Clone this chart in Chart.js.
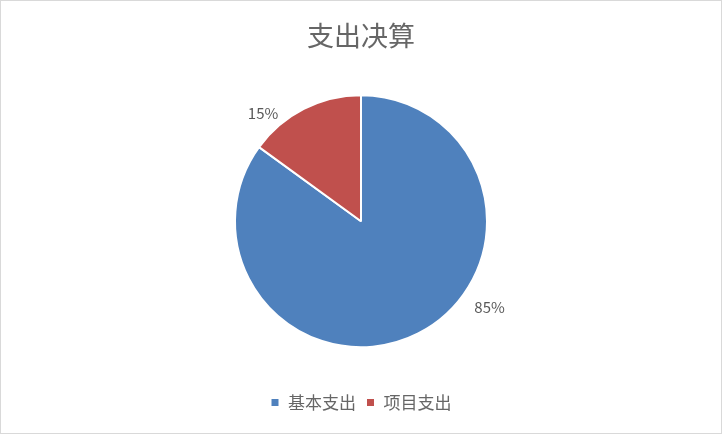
<!DOCTYPE html>
<html>
<head>
<meta charset="utf-8">
<script src="https://cdn.jsdelivr.net/npm/chart.js@4.4.0/dist/chart.umd.min.js"></script>
<style>
  html, body { margin: 0; padding: 0; background: #fff; }
  #wrap { width: 722px; height: 434px; box-sizing: border-box; border: 1px solid #d9d9d9; }
</style>
</head>
<body>
<div id="wrap"><canvas id="myChart" width="720" height="432"></canvas></div>
<script>
const categories = ['基本支出', '项目支出'];
const values = [85, 15];
const colors = ['#4F81BD', '#C0504D'];

// where along each slice the outside label sits, and how far past the edge
const labelFrac = [0.405, 0.22];
const labelGap = [29, 20];

const pieLabels = {
    id: 'pieLabels',
    afterDatasetsDraw(chart) {
        const ctx = chart.ctx;
        const meta = chart.getDatasetMeta(0);
        const total = values.reduce((a, b) => a + b, 0);
        ctx.save();
        ctx.font = '15px "Noto Sans CJK SC", "Noto Sans", sans-serif';
        ctx.fillStyle = '#595959';
        ctx.textAlign = 'center';
        ctx.textBaseline = 'middle';
        meta.data.forEach((arc, i) => {
            const a = arc.startAngle + labelFrac[i] * (arc.endAngle - arc.startAngle);
            const r = arc.outerRadius + labelGap[i];
            const pct = Math.round(values[i] / total * 100) + '%';
            ctx.fillText(pct, arc.x + Math.cos(a) * r, arc.y + Math.sin(a) * r);
        });
        ctx.restore();
    }
};

new Chart('myChart', {
    type: 'pie',
    data: {
        labels: categories,
        datasets: [{
            data: values,
            backgroundColor: colors,
            borderColor: '#fff',
            borderWidth: 2,
            radius: 126
        }]
    },
    options: {
        responsive: false,
        animation: false,
        layout: { padding: { top: 19, bottom: 12 } },
        plugins: {
            title: {
                display: true,
                text: '支出决算',
                color: '#666666',
                font: { size: 27, weight: 'normal', family: '"Noto Sans CJK SC", sans-serif' },
                padding: { top: 0, bottom: 6 }
            },
            legend: {
                position: 'bottom',
                labels: {
                    color: '#666666',
                    font: { size: 17, family: '"Noto Sans CJK SC", sans-serif' },
                    boxWidth: 9,
                    boxHeight: 9,
                    padding: 10
                }
            },
            tooltip: { enabled: false }
        }
    },
    plugins: [pieLabels]
});
</script>
</body>
</html>
